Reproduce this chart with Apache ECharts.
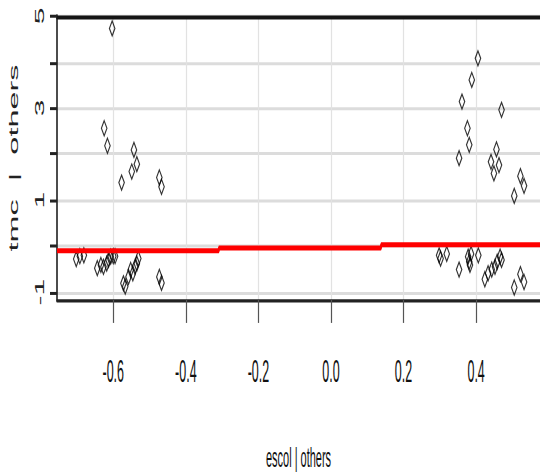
<!DOCTYPE html>
<html>
<head>
<meta charset="utf-8">
<script src="https://cdn.jsdelivr.net/npm/echarts@6/dist/echarts.min.js"></script>
<style>
html, body { margin: 0; padding: 0; background: #fff; }
body { width: 540px; height: 472px; overflow: hidden; }
/* the source image was stretched vertically, so the chart is drawn flat and stretched the same way */
#chart { width: 540px; height: 189px; transform: scaleY(2.4974); transform-origin: 0 0; }
</style>
</head>
<body>
<div id="chart"></div>
<script>
// escol | others  vs  tmc | others
const ptsX = [
  -0.603, -0.625, -0.616, -0.543, -0.535, -0.549, -0.577, -0.473, -0.467,
  -0.702, -0.692, -0.681,
  -0.644, -0.634, -0.627, -0.618, -0.613, -0.607, -0.600, -0.595,
  -0.572, -0.567, -0.558, -0.552, -0.546, -0.540, -0.535, -0.531, -0.473, -0.467,
  0.405, 0.388, 0.361, 0.470, 0.376, 0.381, 0.353, 0.456, 0.441, 0.463, 0.449, 0.522, 0.532, 0.505,
  0.298, 0.302, 0.319, 0.353, 0.378, 0.381, 0.383, 0.386, 0.406,
  0.424, 0.433, 0.443, 0.452, 0.458, 0.466, 0.470, 0.505, 0.522, 0.532
];
const ptsY = [
  4.73, 2.56, 2.18, 2.09, 1.78, 1.62, 1.38, 1.49, 1.29,
  -0.28, -0.22, -0.20,
  -0.48, -0.41, -0.45, -0.38, -0.30, -0.23, -0.22, -0.22,
  -0.81, -0.88, -0.67, -0.52, -0.59, -0.45, -0.38, -0.27, -0.67, -0.80,
  4.08, 3.61, 3.14, 2.96, 2.56, 2.20, 1.91, 2.10, 1.83, 1.76, 1.58, 1.52, 1.31, 1.09,
  -0.20, -0.27, -0.17, -0.51, -0.23, -0.34, -0.41, -0.17, -0.20,
  -0.72, -0.59, -0.51, -0.45, -0.34, -0.23, -0.30, -0.90, -0.61, -0.78
];
// binned mean (red step line)
const stepBreaks = [-0.755, -0.309, 0.138, 0.576];
const stepLevels = [-0.10, -0.04, 0.03];

const xTicks = [-0.6, -0.4, -0.2, 0.0, 0.2, 0.4];
const yTicks = [-1, 0, 1, 2, 3, 4, 5];
const yLabels = [-1, 1, 3, 5];

const scatterData = ptsX.map((x, i) => [x, ptsY[i]]);
const stepData = stepBreaks.map((x, i) => [x, stepLevels[Math.min(i, stepLevels.length - 1)]]);

const chart = echarts.init(document.getElementById('chart'), null, { renderer: 'svg' });
chart.setOption({
  animation: false,
  grid: { left: 57, right: 0, top: 6.4, bottom: 68.9, containLabel: false, outerBoundsMode: 'none' },
  xAxis: [{
    type: 'value',
    min: -0.755,
    max: 0.576,
    name: 'escol | others',
    nameLocation: 'middle',
    nameGap: 57.5,
    nameMoveOverlap: false,
    nameTextStyle: { fontFamily: 'Liberation Sans', fontSize: 11, color: '#111' },
    axisLine: { onZero: false, lineStyle: { color: '#222', width: 1.3 } },
    axisTick: { customValues: xTicks, length: 9.2, lineStyle: { color: '#555', width: 1.2 } },
    axisLabel: {
      customValues: xTicks,
      margin: 22,
      fontFamily: 'Liberation Sans',
      fontSize: 12.5,
      color: '#111',
      formatter: v => v.toFixed(1)
    },
    splitLine: { show: true, lineStyle: { color: '#e2e2e2', width: 1.2 } }
  }, {
    type: 'value',
    position: 'top',
    min: -0.755,
    max: 0.576,
    axisLine: { show: true, onZero: false, lineStyle: { color: '#151515', width: 1.6 } },
    axisTick: { show: false },
    axisLabel: { show: false },
    splitLine: { show: false }
  }],
  yAxis: {
    type: 'value',
    min: -1.17,
    max: 5,
    name: 'tmc  |  others',
    nameLocation: 'middle',
    nameGap: 37,
    nameMoveOverlap: false,
    nameTextStyle: { fontFamily: 'Liberation Sans', fontSize: 13, color: '#222' },
    axisLine: { show: true, onZero: false, lineStyle: { color: '#111', width: 1.5 } },
    axisTick: { show: true, customValues: yTicks, length: 7, lineStyle: { color: '#222', width: 1.2 } },
    axisLabel: {
      customValues: yLabels,
      rotate: 90,
      margin: 11,
      fontFamily: 'Liberation Sans',
      fontSize: 12,
      color: '#222'
    },
    splitLine: { show: true, lineStyle: { color: '#dcdcdc', width: 1.2 } }
  },
  series: [{
    type: 'scatter',
    data: scatterData,
    symbol: 'diamond',
    symbolSize: [5.5, 6],
    itemStyle: { color: 'rgba(255,255,255,0)', borderColor: '#000', borderWidth: 0.9 },
    z: 3
  }, {
    type: 'line',
    data: stepData,
    step: 'end',
    symbol: 'none',
    lineStyle: { color: '#ff0000', width: 2 },
    z: 4
  }]
});
</script>
</body>
</html>
